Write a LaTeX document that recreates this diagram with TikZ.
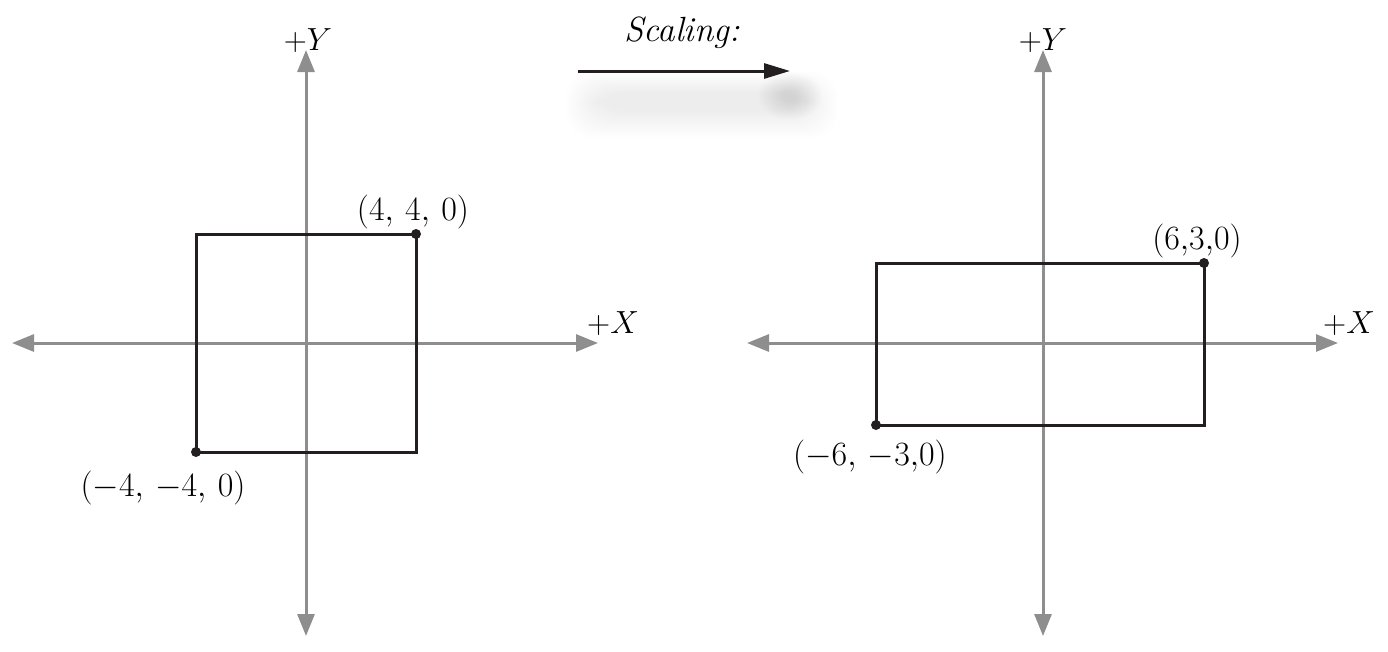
\RequirePackage{fix-cm}
\documentclass[tikz,border=0pt]{standalone}
\usetikzlibrary{arrows.meta}
\definecolor{axisgray}{HTML}{8E8E8E}
\definecolor{ink}{HTML}{231F20}
\begin{document}
\begin{tikzpicture}[x=1pt,y=-1pt,
  axis/.style={draw=axisgray,line width=3pt,-{Triangle[length=22pt,width=17pt]}},
  box/.style={draw=ink,line width=3pt,line join=miter},
  pt/.style={circle,fill=ink,inner sep=0pt,minimum size=10pt},
  lab/.style={font=\fontsize{32}{36}\selectfont,inner sep=0pt,text=black},
  coord/.style={font=\fontsize{34}{38}\selectfont,inner sep=0pt,text=black},
  ]
\useasboundingbox (0,0) rectangle (1388,651);
% ---------- left axes
\coordinate (LO) at (306,343);
\coordinate (Lxp) at (598,343);
\coordinate (Lxm) at (12,343);
\coordinate (Lyp) at (306,50);
\coordinate (Lym) at (306,636);
\draw[axis] (LO) -- (Lxp);
\draw[axis] (LO) -- (Lxm);
\draw[axis] (LO) -- (Lyp);
\draw[axis] (LO) -- (Lym);
% left rectangle
\coordinate (LA) at (196,452);
\coordinate (LB) at (416,452);
\coordinate (LC) at (416,234);
\coordinate (LD) at (196,234);
\draw[box] (LA) -- (LB) -- (LC) -- (LD) -- cycle;
\node[pt] (Ldot1) at (LC) {};
\node[pt] (Ldot2) at (LA) {};
\node[lab] (LXl) at (613,324) {$+X$};
\node[lab] (LYl) at (308,41) {$+Y$};
\node[coord] (Lp1) at (413,212) {$(4,\,4,\,0)$};
\node[coord] (Lp2) at (163,488) {$(-4,\,-4,\,0)$};
% ---------- right axes
\coordinate (RO) at (1043,343);
\coordinate (Rxp) at (1338,343);
\coordinate (Rxm) at (747,343);
\coordinate (Ryp) at (1043,50);
\coordinate (Rym) at (1043,636);
\draw[axis] (RO) -- (Rxp);
\draw[axis] (RO) -- (Rxm);
\draw[axis] (RO) -- (Ryp);
\draw[axis] (RO) -- (Rym);
% right rectangle
\coordinate (RA) at (876,425);
\coordinate (RB) at (1204,425);
\coordinate (RC) at (1204,263);
\coordinate (RD) at (876,263);
\draw[box] (RA) -- (RB) -- (RC) -- (RD) -- cycle;
\node[pt] (Rdot1) at (RC) {};
\node[pt] (Rdot2) at (RA) {};
\node[lab] (RXl) at (1349,324) {$+X$};
\node[lab] (RYl) at (1043,41) {$+Y$};
\node[coord] (Rp1) at (1197,241) {$(6{,}3{,}0)$};
\node[coord] (Rp2) at (870,457) {$(-6,\,-3{,}0)$};
% ---------- scaling arrow with soft shadow
\foreach \i in {0,...,17}{
  \fill[black,opacity=0.0035,rounded corners=26pt]
    (566+\i*1.8,72+\i*1.2) rectangle (838-\i*1.8,138-\i*1.6);
}
\foreach \i in {0,...,12}{
  \fill[black,opacity=0.008] (790,96) ellipse ({32-\i*2.0} and {24-\i*1.5});
}
\coordinate (Sa) at (578,71);
\coordinate (Sb) at (790,71);
\draw[draw=ink,line width=3pt,-{Triangle[length=26pt,width=15pt]}] (Sa) -- (Sb);
\node[font=\fontsize{35}{38}\selectfont\itshape,inner sep=0pt] (Slab) at (682,33) {Scaling:};
\end{tikzpicture}
\end{document}
